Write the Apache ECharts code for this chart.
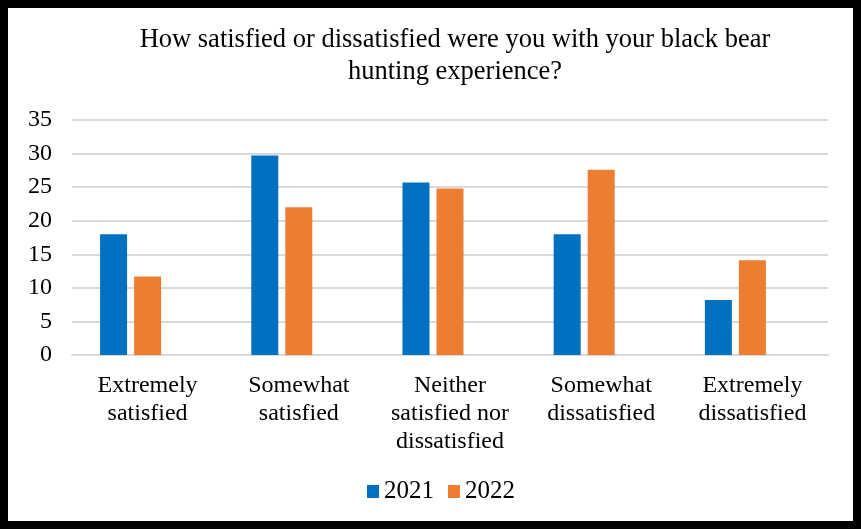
<!DOCTYPE html>
<html><head><meta charset="utf-8">
<script src="https://cdn.jsdelivr.net/npm/echarts@6/dist/echarts.min.js"></script>
<style>html,body{margin:0;padding:0;background:#fff}#c{width:861px;height:529px}</style>
</head><body><div id="c"></div>
<script>
var categories = ['Extremely\nsatisfied', 'Somewhat\nsatisfied', 'Neither\nsatisfied nor\ndissatisfied', 'Somewhat\ndissatisfied', 'Extremely\ndissatisfied'];
var series2021 = [18.0, 29.7, 25.7, 18.0, 8.2];
var series2022 = [11.7, 22.0, 24.8, 27.6, 14.1];
var emptySeries = [null, null, null, null, null];
var yTicks = [0, 5, 10, 15, 20, 25, 30, 35];

var font = 'Liberation Serif, Times New Roman, serif';
var chart = echarts.init(document.getElementById('c'));
chart.setOption({
  animation: false,
  backgroundColor: '#fff',
  title: {
    text: 'How satisfied or dissatisfied were you with your black bear\nhunting experience?',
    left: 450, top: 19, textAlign: 'center',
    textStyle: {fontFamily: font, fontSize: 26.5, fontWeight: 'normal', color: '#000', lineHeight: 32}
  },
  legend: {
    data: ['2021', '2022'], bottom: 20, left: 362,
    itemWidth: 12, itemHeight: 13, itemGap: 14, icon: 'rect',
    textStyle: {fontFamily: font, fontSize: 25, color: '#000', padding: [0, 0, 0, 0]}
  },
  grid: {left: 72, right: 33, top: 120, bottom: 174, containLabel: false},
  xAxis: {
    type: 'category', data: categories,
    axisLine: {lineStyle: {color: '#d9d9d9', width: 2}},
    axisTick: {show: false},
    axisLabel: {fontFamily: font, fontSize: 24, color: '#000', lineHeight: 28, margin: 17, interval: 0}
  },
  yAxis: {
    type: 'value', min: 0, max: 35, interval: 5,
    axisLine: {show: false}, axisTick: {show: false},
    splitLine: {lineStyle: {color: '#d9d9d9', width: 2}},
    axisLabel: {fontFamily: font, fontSize: 24, color: '#000', margin: 20,
      formatter: function (v) { return yTicks.indexOf(v) >= 0 ? String(v) : ''; }}
  },
  series: [
    {name: '2021', type: 'bar', data: series2021, itemStyle: {color: '#0070C0'}, barWidth: 27, barGap: '26%', barCategoryGap: '37%'},
    {name: '2022', type: 'bar', data: series2022, itemStyle: {color: '#ED7D31'}, barWidth: 27, barGap: '26%'},
    {name: 'empty', type: 'bar', data: emptySeries, barWidth: 27, barGap: '26%'}
  ],
  graphic: [{type: 'rect', shape: {x: 4, y: 4, width: 853, height: 521}, style: {fill: 'none', stroke: '#000', lineWidth: 8}, z: 100}]
});
</script></body></html>
